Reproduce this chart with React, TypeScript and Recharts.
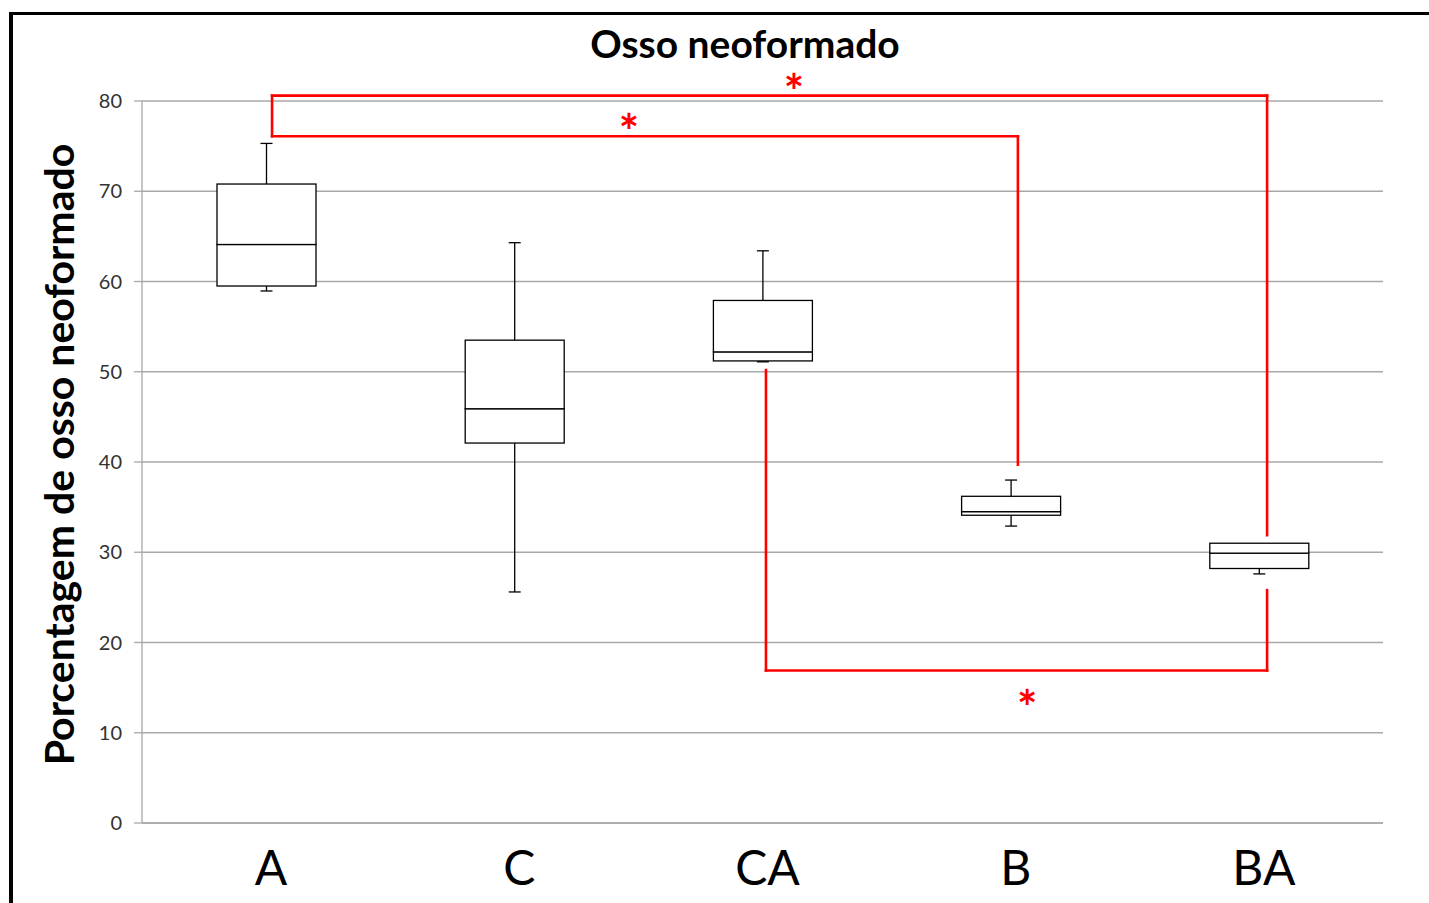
import React from 'react';
import {
  ComposedChart,
  Bar,
  XAxis,
  YAxis,
  CartesianGrid,
  ReferenceLine,
  ReferenceDot,
} from 'recharts';

// ---- data ----
const categories = ['A', 'C', 'CA', 'B', 'BA'];
const minValues = [58.95, 25.6, 51.1, 32.9, 27.6];
const q1Values = [59.5, 42.1, 51.2, 34.1, 28.2];
const medianValues = [64.1, 45.9, 52.2, 34.5, 29.9];
const q3Values = [70.8, 53.5, 57.9, 36.2, 31.0];
const maxValues = [75.3, 64.3, 63.4, 38.0, 31.0];
const yTicks = [0, 10, 20, 30, 40, 50, 60, 70, 80];

// significance brackets (data units: x = category position 1..5, y = %)
const bracketAvsB = [
  { x: 1.024, y: 76.1 },
  { x: 4.029, y: 76.1 },
  { x: 4.029, y: 39.7 },
];
const bracketAvsBA = [
  { x: 1.024, y: 76.1 },
  { x: 1.024, y: 80.6 },
  { x: 5.033, y: 80.6 },
  { x: 5.033, y: 31.9 },
];
const bracketCAvsBA = [
  { x: 3.014, y: 50.2 },
  { x: 3.014, y: 16.9 },
  { x: 5.033, y: 16.9 },
  { x: 5.033, y: 25.8 },
];
const asterisks = [
  { x: 3.127, y: 82.1 },
  { x: 2.462, y: 77.7 },
  { x: 4.066, y: 13.9 },
];

const data = categories.map((c, i) => ({
  pos: i + 1,
  name: c,
  base: minValues[i],
  lowWhisker: q1Values[i] - minValues[i],
  boxLow: medianValues[i] - q1Values[i],
  boxHigh: q3Values[i] - medianValues[i],
  highWhisker: maxValues[i] - q3Values[i],
}));

const STROKE = '#000';
const SW = 1.3;
const CAP = 6;

const Empty = () => null;

const LowWhisker = (p: any) => {
  const cx = p.x + p.width / 2;
  const yb = p.y + p.height;
  return (
    <g>
      <line x1={cx} x2={cx} y1={p.y} y2={yb} stroke={STROKE} strokeWidth={SW} />
      <line x1={cx - CAP} x2={cx + CAP} y1={yb} y2={yb} stroke={STROKE} strokeWidth={SW} />
    </g>
  );
};

const HighWhisker = (p: any) => {
  const cx = p.x + p.width / 2;
  const yb = p.y + p.height;
  if (!(p.height > 0.5)) return <g />;
  return (
    <g>
      <line x1={cx} x2={cx} y1={p.y} y2={yb} stroke={STROKE} strokeWidth={SW} />
      <line x1={cx - CAP} x2={cx + CAP} y1={p.y} y2={p.y} stroke={STROKE} strokeWidth={SW} />
    </g>
  );
};

const BoxPart = (p: any) => (
  <rect
    x={p.x}
    y={p.y}
    width={p.width}
    height={Math.max(p.height, 0)}
    fill="#fff"
    stroke={STROKE}
    strokeWidth={SW}
  />
);

const XTick = (p: any) => (
  <text
    x={p.x + 5}
    y={p.y + 62}
    textAnchor="middle"
    fontFamily="Lato, 'Open Sans', sans-serif"
    fontSize={48}
    fill="#000"
  >
    {categories[p.payload.value - 1]}
  </text>
);

const Asterisk = (p: any) => (
  <text
    x={p.cx}
    y={p.cy + 27}
    textAnchor="middle"
    fontFamily="Lato, 'Open Sans', sans-serif"
    fontWeight="bold"
    fontSize={48}
    fill="#ff0000"
  >
    *
  </text>
);

const segmentsOf = (pts: { x: number; y: number }[]) =>
  pts.slice(1).map((p, i) => [pts[i], p]);

const RED = '#ff0000';

export default function App() {
  const allSegments = [
    ...segmentsOf(bracketAvsBA),
    ...segmentsOf(bracketAvsB),
    ...segmentsOf(bracketCAvsBA),
  ];
  return (
    <div>
      <div style={{ position: 'fixed', left: 0, top: 0, width: 1429, height: 903, background: '#fff' }}>
        <ComposedChart
          width={1429}
          height={903}
          data={data}
          margin={{ top: 101, right: 46, bottom: 0, left: 0 }}
        >
          <CartesianGrid vertical={false} stroke="#a8a8a8" strokeWidth={1.3} />
          <XAxis
            dataKey="pos"
            type="number"
            domain={[0.5, 5.5]}
            ticks={[1, 2, 3, 4, 5]}
            interval={0}
            height={80}
            tickLine={false}
            tickSize={0}
            tickMargin={0}
            axisLine={{ stroke: '#a8a8a8', strokeWidth: 1.3 }}
            tick={<XTick />}
          />
          <YAxis
            type="number"
            domain={[0, 80]}
            ticks={yTicks}
            interval={0}
            width={142}
            tickSize={8}
            tickMargin={12}
            tickLine={{ stroke: '#a8a8a8', strokeWidth: 1.3 }}
            axisLine={{ stroke: '#a8a8a8', strokeWidth: 1.3 }}
            tick={{ fontFamily: "Lato, 'Open Sans', sans-serif", fontSize: 20, fill: '#333' }}
          />
          <Bar dataKey="base" stackId="box" barSize={99} shape={<Empty />} isAnimationActive={false} />
          <Bar dataKey="lowWhisker" stackId="box" barSize={99} shape={<LowWhisker />} isAnimationActive={false} />
          <Bar dataKey="boxLow" stackId="box" barSize={99} shape={<BoxPart />} isAnimationActive={false} />
          <Bar dataKey="boxHigh" stackId="box" barSize={99} shape={<BoxPart />} isAnimationActive={false} />
          <Bar dataKey="highWhisker" stackId="box" barSize={99} shape={<HighWhisker />} isAnimationActive={false} />
          {allSegments.map((seg, i) => (
            <ReferenceLine
              key={'seg' + i}
              segment={seg}
              stroke={RED}
              strokeWidth={2.6}
              strokeLinecap="square"
              ifOverflow="visible"
            />
          ))}
          {asterisks.map((a, i) => (
            <ReferenceDot
              key={'ast' + i}
              x={a.x}
              y={a.y}
              r={0}
              ifOverflow="visible"
              shape={(p: any) => <Asterisk {...p} />}
            />
          ))}
        </ComposedChart>
      </div>
      <svg
        width={1429}
        height={903}
        style={{ position: 'fixed', left: 0, top: 0, pointerEvents: 'none' }}
      >
        <text
          x={745}
          y={58}
          textAnchor="middle"
          fontFamily="Lato, 'Open Sans', sans-serif"
          fontWeight="bold"
          fontSize={39}
          fill="#000"
        >
          Osso neoformado
        </text>
        <text
          transform="translate(74,454.5) rotate(-90)"
          textAnchor="middle"
          fontFamily="Lato, 'Open Sans', sans-serif"
          fontWeight="bold"
          fontSize={41}
          fill="#000"
        >
          Porcentagem de osso neoformado
        </text>
      </svg>
      <div
        style={{
          position: 'fixed',
          left: 9,
          top: 12,
          right: -20,
          bottom: -20,
          borderTop: '3px solid #000',
          borderLeft: '4px solid #000',
          pointerEvents: 'none',
        }}
      />
    </div>
  );
}
